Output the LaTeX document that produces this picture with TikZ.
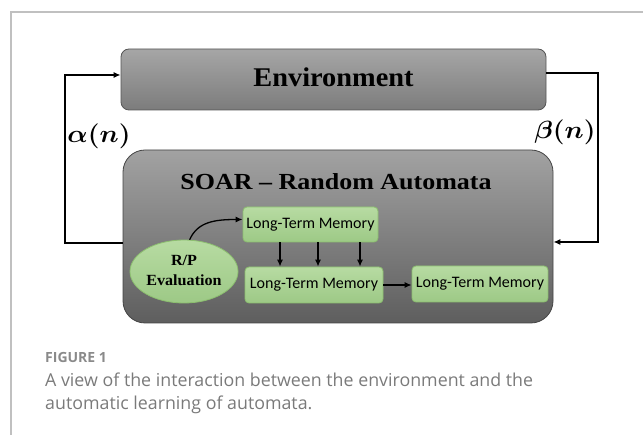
\documentclass[tikz,border=0pt]{standalone}
\usepackage{amsmath}
\usepackage{fontspec}
\setmainfont{Liberation Serif}
\newfontfamily\calfont{Carlito}
\newfontfamily\capfont{Open Sans}
\usetikzlibrary{arrows.meta,shapes.geometric,calc}
\definecolor{envtop}{HTML}{A6A6A6}
\definecolor{envbot}{HTML}{7C7C7C}
\definecolor{envdraw}{HTML}{555555}
\definecolor{soartop}{HTML}{A2A2A2}
\definecolor{soarbot}{HTML}{5E5E5E}
\definecolor{soardraw}{HTML}{444444}
\definecolor{grtop}{HTML}{B7DBA2}
\definecolor{grbot}{HTML}{9DC986}
\definecolor{grdraw}{HTML}{8CBF6F}
\definecolor{framec}{HTML}{C0C0C0}
\definecolor{capc}{HTML}{7A7A7A}
\definecolor{figc}{HTML}{8A8A8A}
\begin{document}
\begin{tikzpicture}[x=1pt,y=-1pt,
  arr/.style={-{Latex[length=7pt,width=6pt]}, line width=1.3pt, black},
  envbox/.style={draw=envdraw, line width=0.8pt, rounded corners=8pt,
    top color=envtop, bottom color=envbot, inner sep=0pt,
    font=\fontsize{27}{30}\selectfont\bfseries},
  soarbox/.style={draw=soardraw, line width=0.8pt, rounded corners=22pt,
    top color=soartop, bottom color=soarbot, inner sep=0pt},
  ltm/.style={draw=grdraw, line width=0.8pt, rounded corners=4pt,
    top color=grtop, bottom color=grbot, inner sep=0pt,
    font=\calfont\fontsize{16}{19}\selectfont},
  evalell/.style={ellipse, draw=grdraw, line width=0.8pt,
    top color=grtop, bottom color=grbot, inner sep=0pt,
    font=\fontsize{15.5}{20}\selectfont\bfseries},
  mathlbl/.style={inner sep=0pt, font=\fontsize{25}{29}\selectfont},
  capfig/.style={inner sep=0pt, text=figc, font=\capfont\bfseries\fontsize{14}{16}\selectfont},
  captxt/.style={inner sep=0pt, text=capc, font=\capfont\fontsize{17.8}{21}\selectfont}
]
\useasboundingbox (0,0) rectangle (643,435);
% frame
\draw[framec, line width=1.5pt] (11,435) -- (11,12) -- (643,12);

% main boxes
\node[envbox, minimum width=425pt, minimum height=61pt] (env) at (333.5,79.5)
  {\raisebox{5.5pt}{\scalebox{1.05}[1]{Environment}}};
\node[soarbox, minimum width=430pt, minimum height=173pt] (soar) at (338,236.5) {};
\node[inner sep=0pt, anchor=base, font=\fontsize{23}{26}\selectfont\bfseries] (title) at (336,189.5)
  {\scalebox{1.13}[1]{SOAR – Random Automata}};

% inner nodes
\node[evalell, minimum width=108pt, minimum height=63pt] (eval) at (184,271.5)
  {\raisebox{5pt}{\scalebox{1.04}[1]{\begin{tabular}{@{}c@{}}R/P\\Evaluation\end{tabular}}}};
\node[ltm, minimum width=135pt, minimum height=35pt] (ltm1) at (310.5,224.5) {Long-Term Memory};
\node[ltm, minimum width=138pt, minimum height=36pt] (ltm2) at (314,285) {Long-Term Memory};
\node[ltm, minimum width=136pt, minimum height=36pt] (ltm3) at (480,284) {Long-Term Memory};

% inner arrows
\draw[arr] (eval.80) .. controls +(8,-18) and +(-28,0) .. ([yshift=5pt]ltm1.west);
\coordinate (d1) at ([xshift=-30.5pt]ltm1.south);
\coordinate (d2) at ([xshift=7.5pt]ltm1.south);
\coordinate (d3) at ([xshift=49.5pt]ltm1.south);
\draw[arr] (d1) -- (d1 |- ltm2.north);
\draw[arr] (d2) -- (d2 |- ltm2.north);
\draw[arr] (d3) -- (d3 |- ltm2.north);
\draw[arr] (ltm2.east) -- (ltm2.east -| ltm3.west);

% feedback loops
\coordinate (lx) at (65,0);
\coordinate (rx) at (598,0);
\coordinate (sw) at ([yshift=-6.5pt]soar.west);
\coordinate (ew) at ([yshift=4.5pt]env.west);
\coordinate (ee) at ([yshift=6.5pt]env.east);
\coordinate (se) at ([yshift=-5.5pt]soar.east);
\draw[arr] (sw) -- (sw -| lx) -- (lx |- ew) -- (ew);
\draw[arr] (ee) -- (ee -| rx) -- (rx |- se) -- (se);

% labels
\node[mathlbl] (alpha) at (99,136) {\scalebox{1.08}[1]{$\boldsymbol{\alpha(n)}$}};
\node[mathlbl] (beta) at (565,132) {\scalebox{1.08}[1]{$\boldsymbol{\beta(n)}$}};

% caption
\node[capfig, anchor=base west] (fig) at (45,363) {FIGURE 1};
\node[captxt, anchor=base west] (cap1) at (45,387) {A view of the interaction between the environment and the};
\node[captxt, anchor=base west] (cap2) at (45,410) {automatic learning of automata.};
\end{tikzpicture}
\end{document}
